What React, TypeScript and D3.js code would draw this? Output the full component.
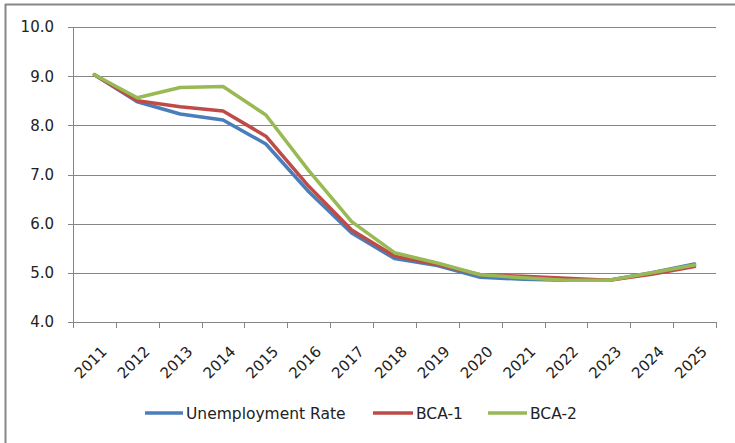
import React from "react";
import * as d3 from "d3";

const years = ["2011","2012","2013","2014","2015","2016","2017","2018","2019","2020","2021","2022","2023","2024","2025"];
const unemployment = [9.03, 8.48, 8.23, 8.11, 7.62, 6.65, 5.81, 5.29, 5.15, 4.91, 4.87, 4.85, 4.85, 5.0, 5.18];
const bca1 = [9.03, 8.5, 8.38, 8.29, 7.78, 6.76, 5.87, 5.34, 5.17, 4.96, 4.93, 4.89, 4.85, 4.97, 5.13];
const bca2 = [9.03, 8.56, 8.77, 8.79, 8.21, 7.08, 6.04, 5.41, 5.2, 4.96, 4.9, 4.85, 4.85, 5.0, 5.16];
const yTicks = [4, 5, 6, 7, 8, 9, 10];
const seriesNames = ["Unemployment Rate", "BCA-1", "BCA-2"];
const seriesColors = ["#4A7EBB", "#BE4B48", "#98B954"];

const W = 735, H = 443;
const L = 73, R = 716, T = 27, B = 322;
const FONT = "DejaVu Sans, sans-serif";

export default function App() {
  const x = d3.scaleBand().domain(years).range([L, R]).padding(0);
  const y = d3.scaleLinear().domain([4, 10]).range([B, T]);
  const line = d3.line<number>()
    .x((_, i) => (x(years[i]) as number) + x.bandwidth() / 2)
    .y((d) => y(d));
  const allSeries = [unemployment, bca1, bca2];
  const legendX = [145, 373, 488];
  const legendW = [38, 40, 39];

  return (
    <svg width={W} height={H} style={{ position: "absolute", left: 0, top: 0, background: "#fff" }}>
      <rect x={0} y={0} width={W} height={H} fill="#fff" />
      <line x1={5.5} y1={4} x2={5.5} y2={H} stroke="#878787" strokeWidth={2} />
      <line x1={5} y1={4.5} x2={W} y2={4.5} stroke="#878787" strokeWidth={2} />
      {yTicks.map((t) => (
        <g key={t}>
          <line x1={L - 5} x2={R} y1={Math.round(y(t)) + 0.5} y2={Math.round(y(t)) + 0.5} stroke="#868686" strokeWidth={1} />
          <text x={L - 19} y={y(t)} dy="0.36em" textAnchor="end" fontFamily={FONT} fontSize={15} fill="#222">
            {t.toFixed(1)}
          </text>
        </g>
      ))}
      <line x1={L + 0.5} x2={L + 0.5} y1={T} y2={B} stroke="#868686" strokeWidth={1} />
      {years.concat(["end"]).map((yr, i) => {
        const xx = Math.round(L + i * x.step()) + 0.5;
        return <line key={yr} x1={xx} x2={xx} y1={B} y2={B + 6} stroke="#868686" strokeWidth={1} />;
      })}
      {years.map((yr) => {
        const cx = (x(yr) as number) + x.bandwidth() / 2;
        const ax = cx + 6, ay = B + 23;
        return (
          <text key={yr} x={ax} y={ay} textAnchor="end" fontFamily={FONT} fontSize={15} fill="#222"
            transform={`rotate(-45 ${ax} ${ay})`} dy="0.7em">
            {yr}
          </text>
        );
      })}
      {allSeries.map((s, i) => (
        <path key={i} d={line(s) as string} fill="none" stroke={seriesColors[i]} strokeWidth={3.5}
          strokeLinejoin="round" strokeLinecap="round" />
      ))}
      {seriesNames.map((n, i) => (
        <g key={n}>
          <line x1={legendX[i]} x2={legendX[i] + legendW[i]} y1={413} y2={413} stroke={seriesColors[i]} strokeWidth={3.5} />
          <text x={legendX[i] + legendW[i] + 3} y={413} dy="0.36em" fontFamily={FONT} fontSize={15.5} fill="#222">{n}</text>
        </g>
      ))}
    </svg>
  );
}
